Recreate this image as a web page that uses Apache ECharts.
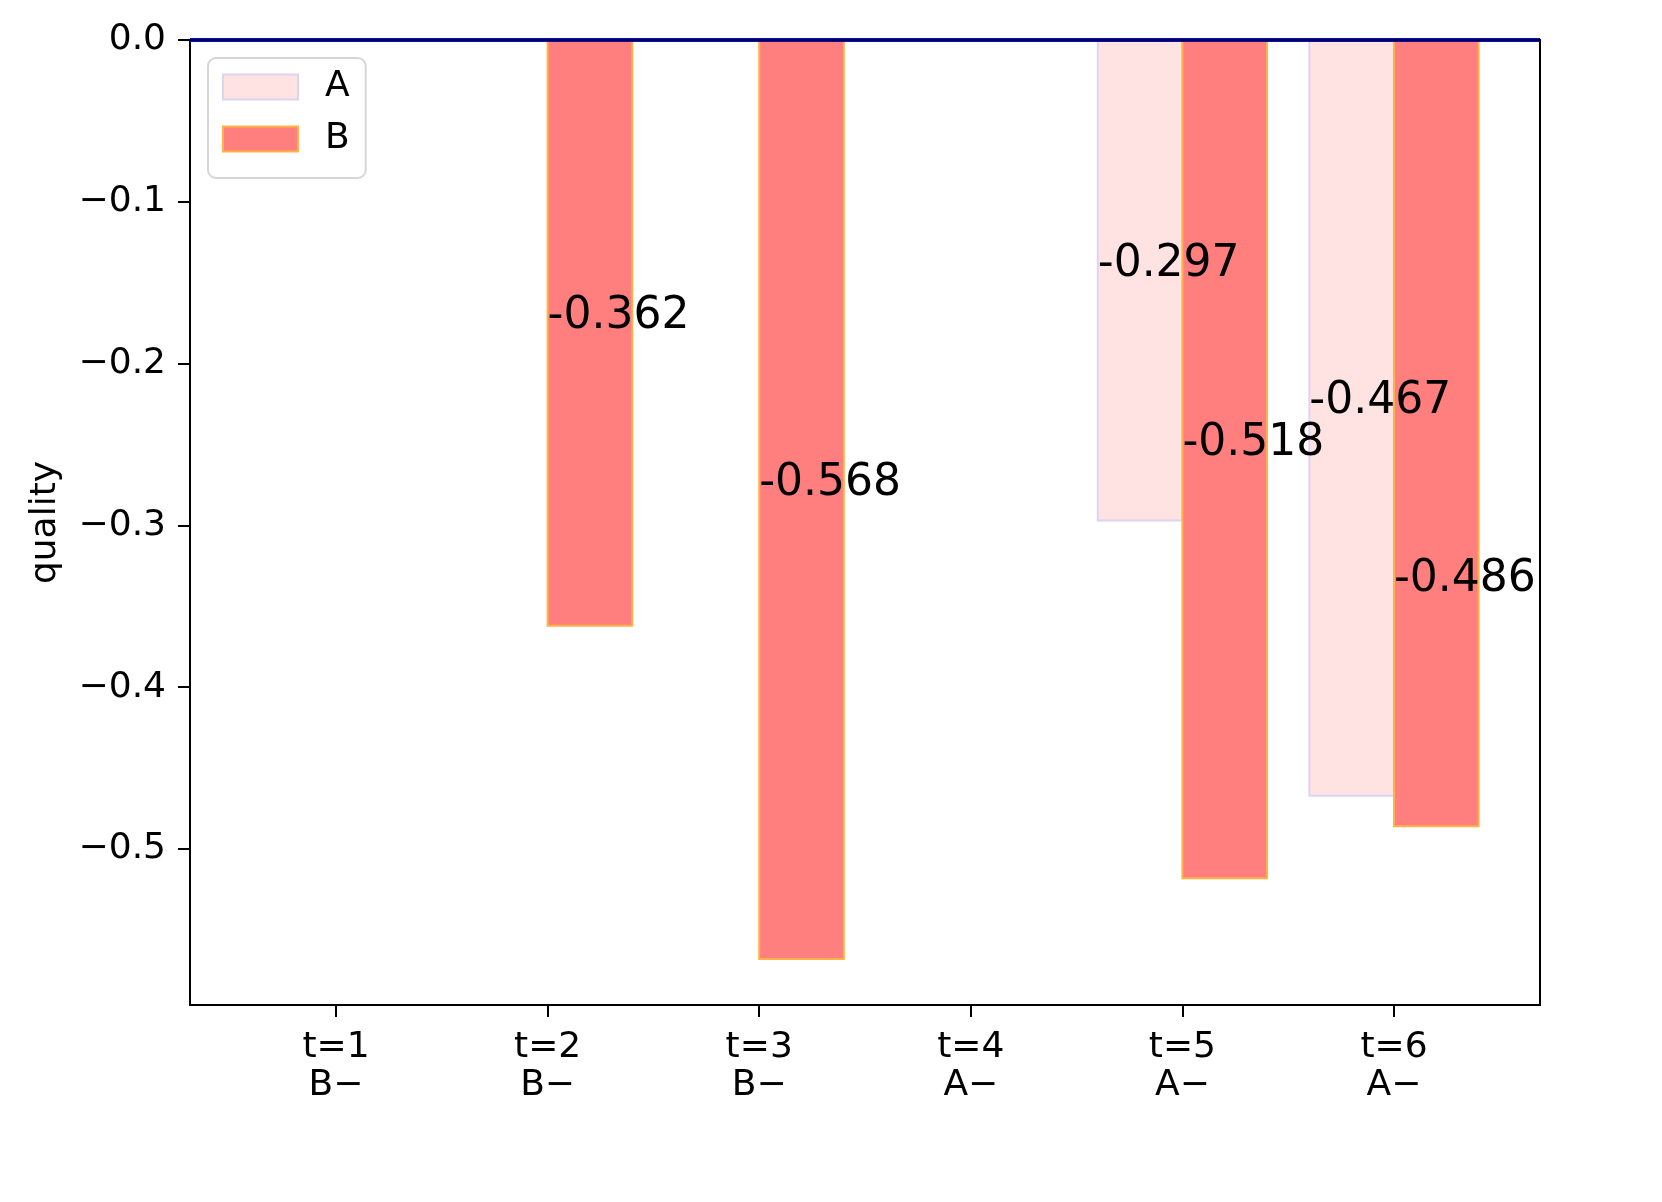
<!DOCTYPE html>
<html><head><meta charset="utf-8">
<script src="https://cdn.jsdelivr.net/npm/echarts@6/dist/echarts.min.js"></script>
<style>html,body{margin:0;padding:0;background:#fff}#c{width:1662px;height:1202px}</style>
</head><body><div id="c"></div>
<script>
const categories = ['t=1', 't=2', 't=3', 't=4', 't=5', 't=6'];
const subLabels = ['B\u2212', 'B\u2212', 'B\u2212', 'A\u2212', 'A\u2212', 'A\u2212'];
const valuesA = [null, null, null, null, -0.297, -0.467];
const valuesB = [null, -0.362, -0.568, null, -0.518, -0.486];
const yTicks = [0, -0.1, -0.2, -0.3, -0.4, -0.5];

const FONT = 'DejaVu Sans';
const BAR_W = 0.4;

function toData(vals, offset) {
  const out = [];
  vals.forEach((v, i) => { if (v !== null) out.push([i, v, offset]); });
  return out;
}

// label anchors: half of the bar; B label is pushed down 0.1 if it would collide with A label
function labelData() {
  const out = [];
  valuesA.forEach((v, i) => { if (v !== null) out.push([i, v, -BAR_W, v / 2]); });
  valuesB.forEach((v, i) => {
    if (v === null) return;
    let y = v / 2;
    const a = valuesA[i];
    if (a !== null && Math.abs(a / 2 - y) < 0.05) y -= 0.1;
    out.push([i, v, 0, y]);
  });
  return out;
}

function renderBar(fill, stroke) {
  return function (params, api) {
    const idx = api.value(0), v = api.value(1), off = api.value(2);
    const p0 = api.coord([idx + off, 0]);
    const p1 = api.coord([idx + off + BAR_W, v]);
    return { type: 'rect', shape: { x: p0[0], y: p0[1], width: p1[0] - p0[0], height: p1[1] - p0[1] },
      style: { fill: fill, stroke: stroke, lineWidth: 2 } };
  };
}

function renderLabel(params, api) {
  const idx = api.value(0), v = api.value(1), off = api.value(2), ly = api.value(3);
  const pm = api.coord([idx + off, ly]);
  const fs = 44;
  return { type: 'text', style: { text: v.toFixed(3), x: pm[0], y: pm[1] - 0.36 * fs,
    fill: '#000', fontSize: fs, fontFamily: FONT, align: 'left', verticalAlign: 'middle' } };
}

const chart = echarts.init(document.getElementById('c'));
const colA = '#ffe3e3', strokeA = '#dcd4f4';
const colB = '#ff7f7f', strokeB = '#ffb347';
const axisBlack = { show: true, onZero: false, lineStyle: { color: '#000', width: 2 } };
chart.setOption({
  animation: false,
  backgroundColor: '#fff',
  grid: { left: 190, right: 122, top: 40, bottom: 197, show: true, borderColor: '#000', borderWidth: 2, backgroundColor: 'transparent' },
  legend: {
    left: 208, top: 58, orient: 'vertical',
    backgroundColor: '#fff', borderColor: '#d6d6d6', borderWidth: 2, borderRadius: 8,
    padding: [11, 16, 21, 14], itemGap: 16, itemWidth: 75, itemHeight: 25, icon: 'rect',
    textStyle: { fontSize: 36, fontFamily: FONT, color: '#000', padding: [0, 0, 0, 22] },
    data: [
      { name: 'A', itemStyle: { color: colA, borderColor: strokeA, borderWidth: 2 } },
      { name: 'B', itemStyle: { color: colB, borderColor: strokeB, borderWidth: 2 } }
    ]
  },
  xAxis: [{
    type: 'value', min: -0.69, max: 5.69, position: 'bottom',
    splitLine: { show: false },
    axisLine: axisBlack,
    axisTick: { show: true, length: 12, lineStyle: { color: '#000', width: 2 }, customValues: [0, 1, 2, 3, 4, 5] },
    axisLabel: { customValues: [0, 1, 2, 3, 4, 5], margin: 24, fontSize: 36, fontFamily: FONT, color: '#000', lineHeight: 38,
      formatter: v => categories[Math.round(v)] + '\n' + subLabels[Math.round(v)] }
  }, {
    type: 'value', min: -0.69, max: 5.69, position: 'top', z: 20,
    splitLine: { show: false }, axisTick: { show: false }, axisLabel: { show: false },
    axisLine: axisBlack
  }],
  yAxis: [{
    type: 'value', min: -0.5964, max: 0, name: 'quality', nameLocation: 'middle', nameGap: 126, nameRotate: 90,
    nameTextStyle: { fontSize: 36, fontFamily: FONT, color: '#000' },
    splitLine: { show: false },
    axisLine: axisBlack,
    axisTick: { show: true, length: 12, lineStyle: { color: '#000', width: 2 }, customValues: yTicks },
    axisLabel: { customValues: yTicks, margin: 24, fontSize: 36, fontFamily: FONT, color: '#000',
      formatter: v => (v < 0 ? '\u2212' : '') + Math.abs(v).toFixed(1) }
  }],
  series: [
    { name: 'A', type: 'custom', data: toData(valuesA, -BAR_W), encode: { x: 0, y: 1 }, itemStyle: { color: colA },
      renderItem: renderBar(colA, strokeA), z: 2 },
    { name: 'B', type: 'custom', data: toData(valuesB, 0), encode: { x: 0, y: 1 }, itemStyle: { color: colB },
      renderItem: renderBar(colB, strokeB), z: 3,
      markLine: { silent: true, symbol: 'none', label: { show: false }, lineStyle: { color: '#0000ff', width: 4, type: 'solid' },
        data: [{ yAxis: 0 }] } },
    { name: 'labels', type: 'custom', data: labelData(), encode: { x: 0, y: 1 },
      renderItem: renderLabel, z: 10, silent: true }
  ]
});
</script></body></html>
